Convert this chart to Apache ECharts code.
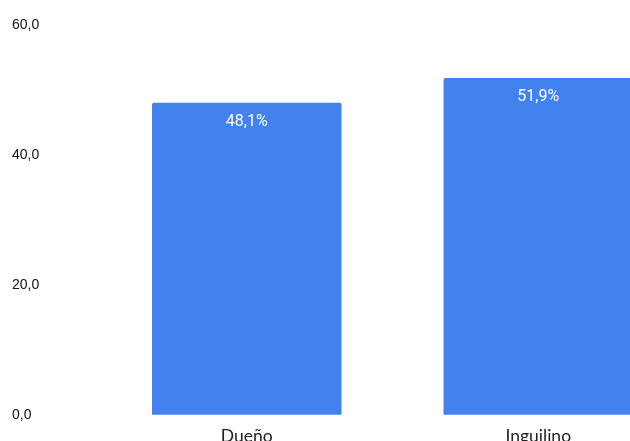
<!DOCTYPE html>
<html>
<head>
<meta charset="utf-8">
<script src="https://cdn.jsdelivr.net/npm/echarts@6/dist/echarts.min.js"></script>
<style>
  html, body { margin: 0; padding: 0; background: #fff; }
  #chart { width: 630px; height: 441px; }
</style>
</head>
<body>
<div id="chart"></div>
<script>
// Tenure type and share of households (%)
const categories = ['Dueño', 'Inguilino'];
const shares = [48.1, 51.9];
const yTicks = [0, 20, 40, 60];

const fmt = v => v.toFixed(1).replace('.', ',');

const chart = echarts.init(document.getElementById('chart'));
chart.setOption({
  animation: false,
  grid: { left: 101, top: 25.5, width: 583, bottom: 26.3, outerBoundsMode: 'none', containLabel: false },
  xAxis: {
    type: 'category',
    data: categories,
    axisLine: { show: false },
    axisTick: { show: false },
    axisLabel: {
      margin: 13,
      color: '#222',
      fontFamily: 'Lato',
      fontSize: 17.5
    }
  },
  yAxis: {
    type: 'value',
    min: yTicks[0],
    max: yTicks[yTicks.length - 1],
    interval: 20,
    splitLine: { show: false },
    axisLine: { show: false },
    axisTick: { show: false },
    axisLabel: {
      align: 'left',
      margin: 89,
      color: '#111',
      fontFamily: 'Liberation Sans',
      fontSize: 14,
      formatter: v => fmt(v)
    }
  },
  series: [{
    type: 'bar',
    data: shares,
    barWidth: '65%',
    itemStyle: { color: '#4282ef', borderRadius: [2, 2, 0, 0] },
    label: {
      show: true,
      position: 'insideTop',
      distance: 11,
      color: '#fff',
      fontFamily: 'Roboto',
      fontSize: 16,
      formatter: p => fmt(p.value) + '%'
    }
  }]
});
</script>
</body>
</html>
